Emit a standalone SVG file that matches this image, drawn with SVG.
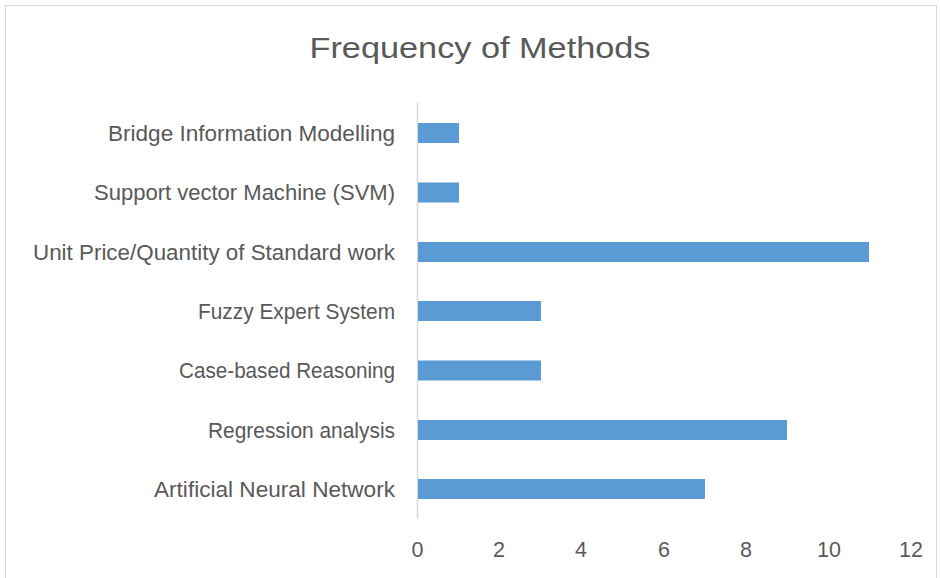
<svg xmlns="http://www.w3.org/2000/svg" width="940" height="578" viewBox="0 0 940 578">
<style>
.t{font-family:"Liberation Sans",Arial,sans-serif;fill:#595959}
.cat{font-size:21.5px;text-anchor:end}
.tick{font-size:21.5px;text-anchor:middle}
.bar{fill:#5B9BD5}
</style>
<rect x="0" y="0" width="940" height="578" fill="#fff"/>
<rect x="5.5" y="5.5" width="931" height="590" fill="none" stroke="#D9D9D9" stroke-width="1"/>
<text class="t" x="480" y="58" font-size="29.5" text-anchor="middle" textLength="341" lengthAdjust="spacingAndGlyphs">Frequency of Methods</text>
<g id="axis">
<line x1="417.5" y1="103" x2="417.5" y2="519" stroke="#D9D9D9" stroke-width="1.5"/>
</g>
<g id="bars">
<rect class="bar" x="418" y="123" width="41" height="20"/>
<rect class="bar" x="418" y="182.5" width="41" height="20"/>
<rect class="bar" x="418" y="242" width="451" height="20"/>
<rect class="bar" x="418" y="301" width="123" height="20"/>
<rect class="bar" x="418" y="360.5" width="123" height="20"/>
<rect class="bar" x="418" y="420" width="369" height="20"/>
<rect class="bar" x="418" y="479" width="287" height="20"/>
</g>
<g id="categories">
<text class="t cat" x="395" y="140.5" textLength="287" lengthAdjust="spacingAndGlyphs">Bridge Information Modelling</text>
<text class="t cat" x="395" y="200" textLength="301" lengthAdjust="spacingAndGlyphs">Support vector Machine (SVM)</text>
<text class="t cat" x="395" y="259.5" textLength="362" lengthAdjust="spacingAndGlyphs">Unit Price/Quantity of Standard work</text>
<text class="t cat" x="395" y="318.5" textLength="197" lengthAdjust="spacingAndGlyphs">Fuzzy Expert System</text>
<text class="t cat" x="395" y="378" textLength="216" lengthAdjust="spacingAndGlyphs">Case-based Reasoning</text>
<text class="t cat" x="395" y="437.5" textLength="187" lengthAdjust="spacingAndGlyphs">Regression analysis</text>
<text class="t cat" x="395" y="496.5" textLength="241" lengthAdjust="spacingAndGlyphs">Artificial Neural Network</text>
</g>
<g id="ticks">
<text class="t tick" x="417.5" y="557">0</text>
<text class="t tick" x="499" y="557">2</text>
<text class="t tick" x="581" y="557">4</text>
<text class="t tick" x="664" y="557">6</text>
<text class="t tick" x="746" y="557">8</text>
<text class="t tick" x="829" y="557">10</text>
<text class="t tick" x="911" y="557">12</text>
</g>
</svg>
